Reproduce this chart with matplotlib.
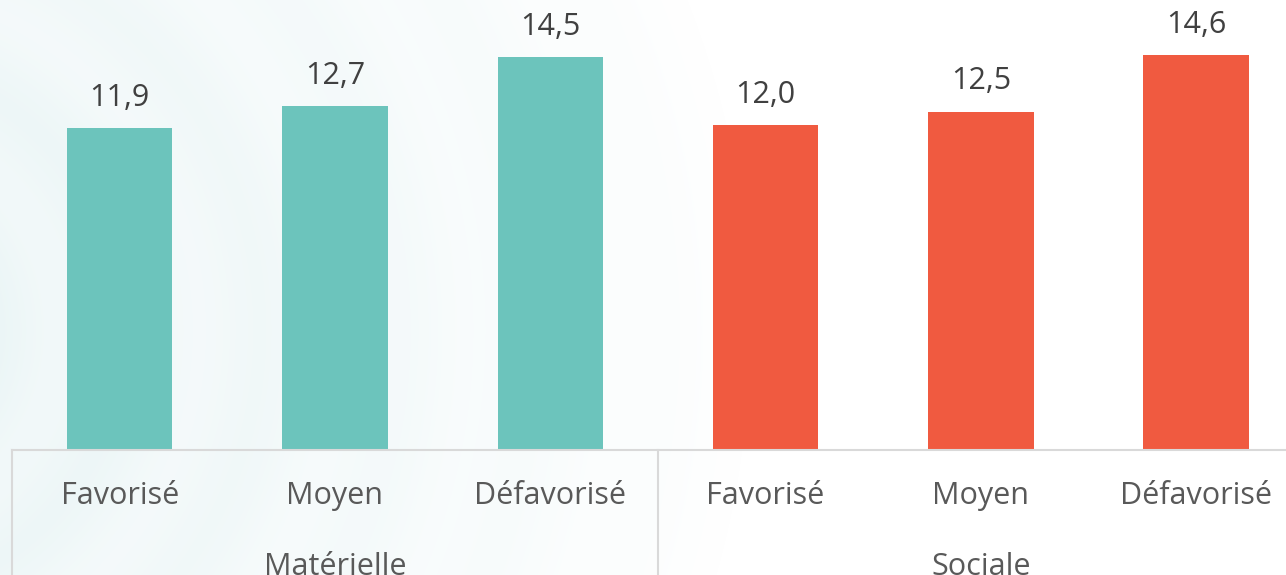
import numpy as np
import matplotlib
matplotlib.use('Agg')
import matplotlib.pyplot as plt
import matplotlib.transforms as mtransforms

# data
categories = ['Favorisé', 'Moyen', 'Défavorisé', 'Favorisé', 'Moyen', 'Défavorisé']
groups = ['Matérielle', 'Sociale']
values = [11.9, 12.7, 14.5, 12.0, 12.5, 14.6]
value_labels = ['11,9', '12,7', '14,5', '12,0', '12,5', '14,6']

teal = '#6CC4BC'
red = '#F05A40'
colors = [teal] * 3 + [red] * 3

plt.rcParams['font.family'] = ['Open Sans', 'DejaVu Sans']

W, H = 1286, 575
fig = plt.figure(figsize=(W / 100, H / 100), dpi=100)

# faint circular background on the left
bg = fig.add_axes([0, 0, 1, 1])
yy, xx = np.mgrid[0:H, 0:W]
r = np.hypot(xx + 150, yy - 330)
w = np.clip(1 - r / 900, 0, 1) ** 0.8
w = w * (0.85 + 0.15 * np.cos(r / 22.0))
tint = np.array([232, 244, 245]) / 255.0
img = 1 - w[..., None] * (1 - tint)
bg.imshow(img, extent=[0, W, H, 0], aspect='auto')
bg.axis('off')

# main axes: slots 215.3 px wide starting at x=12, baseline at y=450
slot = 215.3
left_px = 12
base_px = 450
px_per_unit = 27.07
ax = fig.add_axes([left_px / W, (H - base_px) / H, 6 * slot / W, base_px / H])
ax.set_facecolor('none')
x = np.arange(len(values))
ax.bar(x, values, width=0.49, color=colors, zorder=2)
ax.set_xlim(-0.5, len(values) - 0.5)
ax.set_ylim(0, base_px / px_per_unit)

for xi, v, lab in zip(x, values, value_labels):
    ax.annotate(lab, (xi, v), xytext=(0, 11), textcoords='offset points',
                ha='center', va='bottom', fontsize=22, color='#404040')

for s in ['top', 'right', 'left']:
    ax.spines[s].set_visible(False)
ax.spines['bottom'].set_color('#D9D9D9')
ax.spines['bottom'].set_linewidth(1.5)
ax.set_yticks([])
ax.set_xticks(x)
ax.set_xticklabels(categories, fontsize=22, color='#595959')
ax.tick_params(axis='x', length=0, pad=22)

# group separators and group labels
trans = mtransforms.blended_transform_factory(ax.transData, ax.transAxes)
for sep in [-0.5, 2.5, 5.5]:
    ax.plot([sep, sep], [0, -0.4], transform=trans, color='#D9D9D9',
            lw=1.5, clip_on=False)
for gi, g in enumerate(groups):
    ax.text(gi * 3 + 1, -0.26, g, transform=trans, ha='center', va='center',
            fontsize=22, color='#595959')

fig.savefig('out.png', dpi=100)
